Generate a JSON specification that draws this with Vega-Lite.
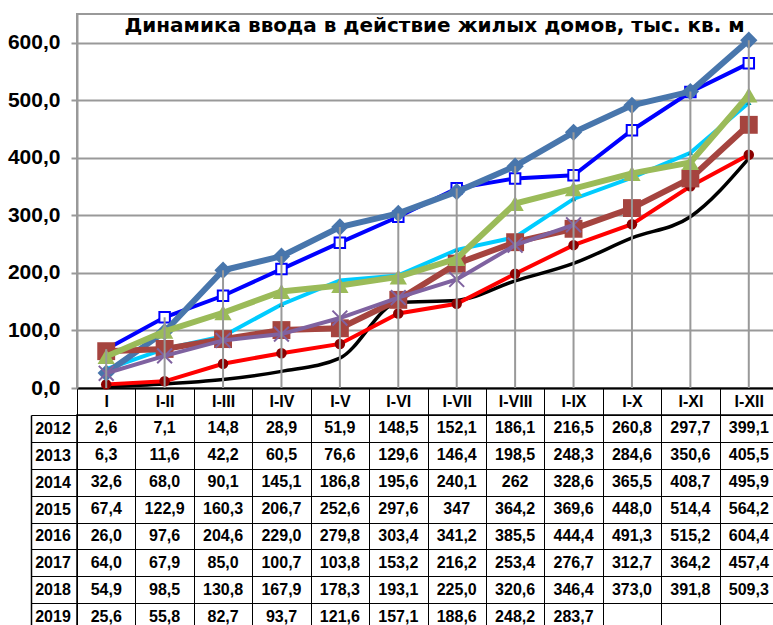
{
  "$schema": "https://vega.github.io/schema/vega-lite/v6.json",
  "background": "white",
  "padding": {"left": 6, "top": 13, "right": 0, "bottom": 0},
  "bounds": "flush",
  "spacing": 27,
  "config": {"font": "Liberation Sans", "view": {"stroke": null}},
  "datasets": {
    "d": [
      {"year": "2012", "period": "I", "value": 2.6, "label": "2,6"},
      {"year": "2012", "period": "I-II", "value": 7.1, "label": "7,1"},
      {"year": "2012", "period": "I-III", "value": 14.8, "label": "14,8"},
      {"year": "2012", "period": "I-IV", "value": 28.9, "label": "28,9"},
      {"year": "2012", "period": "I-V", "value": 51.9, "label": "51,9"},
      {"year": "2012", "period": "I-VI", "value": 148.5, "label": "148,5"},
      {"year": "2012", "period": "I-VII", "value": 152.1, "label": "152,1"},
      {"year": "2012", "period": "I-VIII", "value": 186.1, "label": "186,1"},
      {"year": "2012", "period": "I-IX", "value": 216.5, "label": "216,5"},
      {"year": "2012", "period": "I-X", "value": 260.8, "label": "260,8"},
      {"year": "2012", "period": "I-XI", "value": 297.7, "label": "297,7"},
      {"year": "2012", "period": "I-XII", "value": 399.1, "label": "399,1"},
      {"year": "2013", "period": "I", "value": 6.3, "label": "6,3"},
      {"year": "2013", "period": "I-II", "value": 11.6, "label": "11,6"},
      {"year": "2013", "period": "I-III", "value": 42.2, "label": "42,2"},
      {"year": "2013", "period": "I-IV", "value": 60.5, "label": "60,5"},
      {"year": "2013", "period": "I-V", "value": 76.6, "label": "76,6"},
      {"year": "2013", "period": "I-VI", "value": 129.6, "label": "129,6"},
      {"year": "2013", "period": "I-VII", "value": 146.4, "label": "146,4"},
      {"year": "2013", "period": "I-VIII", "value": 198.5, "label": "198,5"},
      {"year": "2013", "period": "I-IX", "value": 248.3, "label": "248,3"},
      {"year": "2013", "period": "I-X", "value": 284.6, "label": "284,6"},
      {"year": "2013", "period": "I-XI", "value": 350.6, "label": "350,6"},
      {"year": "2013", "period": "I-XII", "value": 405.5, "label": "405,5"},
      {"year": "2014", "period": "I", "value": 32.6, "label": "32,6"},
      {"year": "2014", "period": "I-II", "value": 68.0, "label": "68,0"},
      {"year": "2014", "period": "I-III", "value": 90.1, "label": "90,1"},
      {"year": "2014", "period": "I-IV", "value": 145.1, "label": "145,1"},
      {"year": "2014", "period": "I-V", "value": 186.8, "label": "186,8"},
      {"year": "2014", "period": "I-VI", "value": 195.6, "label": "195,6"},
      {"year": "2014", "period": "I-VII", "value": 240.1, "label": "240,1"},
      {"year": "2014", "period": "I-VIII", "value": 262, "label": "262"},
      {"year": "2014", "period": "I-IX", "value": 328.6, "label": "328,6"},
      {"year": "2014", "period": "I-X", "value": 365.5, "label": "365,5"},
      {"year": "2014", "period": "I-XI", "value": 408.7, "label": "408,7"},
      {"year": "2014", "period": "I-XII", "value": 495.9, "label": "495,9"},
      {"year": "2015", "period": "I", "value": 67.4, "label": "67,4"},
      {"year": "2015", "period": "I-II", "value": 122.9, "label": "122,9"},
      {"year": "2015", "period": "I-III", "value": 160.3, "label": "160,3"},
      {"year": "2015", "period": "I-IV", "value": 206.7, "label": "206,7"},
      {"year": "2015", "period": "I-V", "value": 252.6, "label": "252,6"},
      {"year": "2015", "period": "I-VI", "value": 297.6, "label": "297,6"},
      {"year": "2015", "period": "I-VII", "value": 347, "label": "347"},
      {"year": "2015", "period": "I-VIII", "value": 364.2, "label": "364,2"},
      {"year": "2015", "period": "I-IX", "value": 369.6, "label": "369,6"},
      {"year": "2015", "period": "I-X", "value": 448.0, "label": "448,0"},
      {"year": "2015", "period": "I-XI", "value": 514.4, "label": "514,4"},
      {"year": "2015", "period": "I-XII", "value": 564.2, "label": "564,2"},
      {"year": "2016", "period": "I", "value": 26.0, "label": "26,0"},
      {"year": "2016", "period": "I-II", "value": 97.6, "label": "97,6"},
      {"year": "2016", "period": "I-III", "value": 204.6, "label": "204,6"},
      {"year": "2016", "period": "I-IV", "value": 229.0, "label": "229,0"},
      {"year": "2016", "period": "I-V", "value": 279.8, "label": "279,8"},
      {"year": "2016", "period": "I-VI", "value": 303.4, "label": "303,4"},
      {"year": "2016", "period": "I-VII", "value": 341.2, "label": "341,2"},
      {"year": "2016", "period": "I-VIII", "value": 385.5, "label": "385,5"},
      {"year": "2016", "period": "I-IX", "value": 444.4, "label": "444,4"},
      {"year": "2016", "period": "I-X", "value": 491.3, "label": "491,3"},
      {"year": "2016", "period": "I-XI", "value": 515.2, "label": "515,2"},
      {"year": "2016", "period": "I-XII", "value": 604.4, "label": "604,4"},
      {"year": "2017", "period": "I", "value": 64.0, "label": "64,0"},
      {"year": "2017", "period": "I-II", "value": 67.9, "label": "67,9"},
      {"year": "2017", "period": "I-III", "value": 85.0, "label": "85,0"},
      {"year": "2017", "period": "I-IV", "value": 100.7, "label": "100,7"},
      {"year": "2017", "period": "I-V", "value": 103.8, "label": "103,8"},
      {"year": "2017", "period": "I-VI", "value": 153.2, "label": "153,2"},
      {"year": "2017", "period": "I-VII", "value": 216.2, "label": "216,2"},
      {"year": "2017", "period": "I-VIII", "value": 253.4, "label": "253,4"},
      {"year": "2017", "period": "I-IX", "value": 276.7, "label": "276,7"},
      {"year": "2017", "period": "I-X", "value": 312.7, "label": "312,7"},
      {"year": "2017", "period": "I-XI", "value": 364.2, "label": "364,2"},
      {"year": "2017", "period": "I-XII", "value": 457.4, "label": "457,4"},
      {"year": "2018", "period": "I", "value": 54.9, "label": "54,9"},
      {"year": "2018", "period": "I-II", "value": 98.5, "label": "98,5"},
      {"year": "2018", "period": "I-III", "value": 130.8, "label": "130,8"},
      {"year": "2018", "period": "I-IV", "value": 167.9, "label": "167,9"},
      {"year": "2018", "period": "I-V", "value": 178.3, "label": "178,3"},
      {"year": "2018", "period": "I-VI", "value": 193.1, "label": "193,1"},
      {"year": "2018", "period": "I-VII", "value": 225.0, "label": "225,0"},
      {"year": "2018", "period": "I-VIII", "value": 320.6, "label": "320,6"},
      {"year": "2018", "period": "I-IX", "value": 346.4, "label": "346,4"},
      {"year": "2018", "period": "I-X", "value": 373.0, "label": "373,0"},
      {"year": "2018", "period": "I-XI", "value": 391.8, "label": "391,8"},
      {"year": "2018", "period": "I-XII", "value": 509.3, "label": "509,3"},
      {"year": "2019", "period": "I", "value": 25.6, "label": "25,6"},
      {"year": "2019", "period": "I-II", "value": 55.8, "label": "55,8"},
      {"year": "2019", "period": "I-III", "value": 82.7, "label": "82,7"},
      {"year": "2019", "period": "I-IV", "value": 93.7, "label": "93,7"},
      {"year": "2019", "period": "I-V", "value": 121.6, "label": "121,6"},
      {"year": "2019", "period": "I-VI", "value": 157.1, "label": "157,1"},
      {"year": "2019", "period": "I-VII", "value": 188.6, "label": "188,6"},
      {"year": "2019", "period": "I-VIII", "value": 248.2, "label": "248,2"},
      {"year": "2019", "period": "I-IX", "value": 283.7, "label": "283,7"}
    ]
  },
  "vconcat": [
    {
      "width": 701,
      "height": 374,
      "data": {"name": "d"},
      "view": {"stroke": "#999999", "strokeWidth": 2},
      "title": {
        "text": "Динамика ввода в действие жилых домов, тыс. кв. м",
        "font": "DejaVu Sans",
        "fontSize": 20,
        "fontWeight": "bold",
        "color": "black",
        "anchor": "middle",
        "frame": "group",
        "baseline": "alphabetic",
        "offset": -15,
        "dx": 7,
        "dy": 23
      },
      "encoding": {
        "x": {
          "field": "period",
          "type": "nominal",
          "sort": null,
          "scale": {"domain": ["I", "I-II", "I-III", "I-IV", "I-V", "I-VI", "I-VII", "I-VIII", "I-IX", "I-X", "I-XI", "I-XII"], "paddingInner": 0, "paddingOuter": 0},
          "axis": {
            "title": null,
            "orient": "bottom",
            "labelAngle": 0,
            "domainColor": "black",
            "domainWidth": 2,
            "ticks": true,
            "tickBand": "extent",
            "tickSize": 27,
            "tickColor": "black",
            "tickWidth": 1,
            "labelFont": "Liberation Sans",
            "labelFontSize": 16,
            "labelFontWeight": "bold",
            "labelColor": "black",
            "labelBaseline": "middle",
            "labelPadding": -13.5,
            "grid": false
          }
        },
        "y": {
          "field": "value",
          "type": "quantitative",
          "scale": {"domain": [0, 650], "nice": false, "zero": true},
          "axis": {
            "title": null,
            "values": [0, 100, 200, 300, 400, 500, 600],
            "labelExpr": "replace(format(datum.value, '.1f'), '.', ',')",
            "labelFont": "Liberation Sans",
            "labelFontSize": 21,
            "labelFontWeight": "bold",
            "labelColor": "black",
            "labelPadding": 11,
            "tickSize": 6,
            "tickColor": "#999999",
            "tickWidth": 2,
            "domainColor": "#999999",
            "domainWidth": 2,
            "grid": true,
            "gridColor": "#999999",
            "gridWidth": 2
          }
        }
      },
      "layer": [
        {"transform": [{"filter": "datum.year == '2012'"}], "mark": {"type": "line", "color": "#000000", "strokeWidth": 3.5, "interpolate": "monotone"}},
        {"transform": [{"filter": "datum.year == '2013'"}], "mark": {"type": "line", "color": "#FF0000", "strokeWidth": 4, "point": {"shape": "circle", "size": 110, "filled": true, "color": "#8B0000"}}},
        {"transform": [{"filter": "datum.year == '2014'"}], "mark": {"type": "line", "color": "#00CCFF", "strokeWidth": 4, "point": {"shape": "triangle-up", "size": 30, "filled": true, "color": "#008B9B"}}},
        {"transform": [{"filter": "datum.year == '2015'"}], "mark": {"type": "line", "color": "#0000FF", "strokeWidth": 4, "point": {"shape": "square", "size": 110, "filled": true, "fill": "white", "stroke": "#0000FF", "strokeWidth": 2}}},
        {"transform": [{"filter": "datum.year == '2016'"}], "mark": {"type": "line", "color": "#4876AC", "strokeWidth": 6, "point": {"shape": "diamond", "size": 300, "filled": true, "color": "#4876AC"}}},
        {"transform": [{"filter": "datum.year == '2017'"}], "mark": {"type": "line", "color": "#A5443F", "strokeWidth": 6, "point": {"shape": "square", "size": 320, "filled": true, "color": "#A5443F"}}},
        {"transform": [{"filter": "datum.year == '2018'"}], "mark": {"type": "line", "color": "#9BBB59", "strokeWidth": 6, "point": {"shape": "triangle-up", "size": 300, "filled": true, "color": "#9BBB59"}}},
        {"transform": [{"filter": "datum.year == '2019'"}], "mark": {"type": "line", "color": "#7F62A0", "strokeWidth": 4, "point": {"shape": "M-1,-1L1,1M1,-1L-1,1", "size": 220, "filled": false, "stroke": "#7F62A0", "strokeWidth": 2}}},
        {
          "mark": {"type": "rule", "color": "#999999", "strokeWidth": 2},
          "encoding": {
            "y": {"aggregate": "max", "field": "value", "type": "quantitative"},
            "y2": {"datum": 0}
          }
        }
      ]
    },
    {
      "width": 701,
      "height": 215,
      "data": {"name": "d"},
      "view": {"stroke": "black", "strokeWidth": 1.5},
      "mark": {"type": "text", "font": "Liberation Sans", "fontSize": 16, "fontWeight": "bold", "color": "black", "baseline": "middle"},
      "encoding": {
        "x": {
          "field": "period",
          "type": "nominal",
          "sort": null,
          "scale": {"domain": ["I", "I-II", "I-III", "I-IV", "I-V", "I-VI", "I-VII", "I-VIII", "I-IX", "I-X", "I-XI", "I-XII"], "paddingInner": 0, "paddingOuter": 0},
          "axis": {"title": null, "grid": true, "tickBand": "extent", "gridColor": "black", "gridWidth": 1, "labels": false, "ticks": false, "domain": false}
        },
        "y": {
          "field": "year",
          "type": "nominal",
          "sort": null,
          "scale": {"domain": ["2012", "2013", "2014", "2015", "2016", "2017", "2018", "2019"], "paddingInner": 0, "paddingOuter": 0},
          "axis": {
            "title": null,
            "grid": true,
            "tickBand": "extent",
            "gridColor": "black",
            "gridWidth": 1,
            "offset": 46,
            "domain": true,
            "domainColor": "black",
            "domainWidth": 1.5,
            "ticks": true,
            "tickSize": -46,
            "tickColor": "black",
            "tickWidth": 1,
            "labelFont": "Liberation Sans",
            "labelFontSize": 16,
            "labelFontWeight": "bold",
            "labelColor": "black",
            "labelAlign": "center",
            "labelBaseline": "middle",
            "labelPadding": 24.5
          }
        },
        "text": {"field": "label"}
      }
    }
  ]
}
